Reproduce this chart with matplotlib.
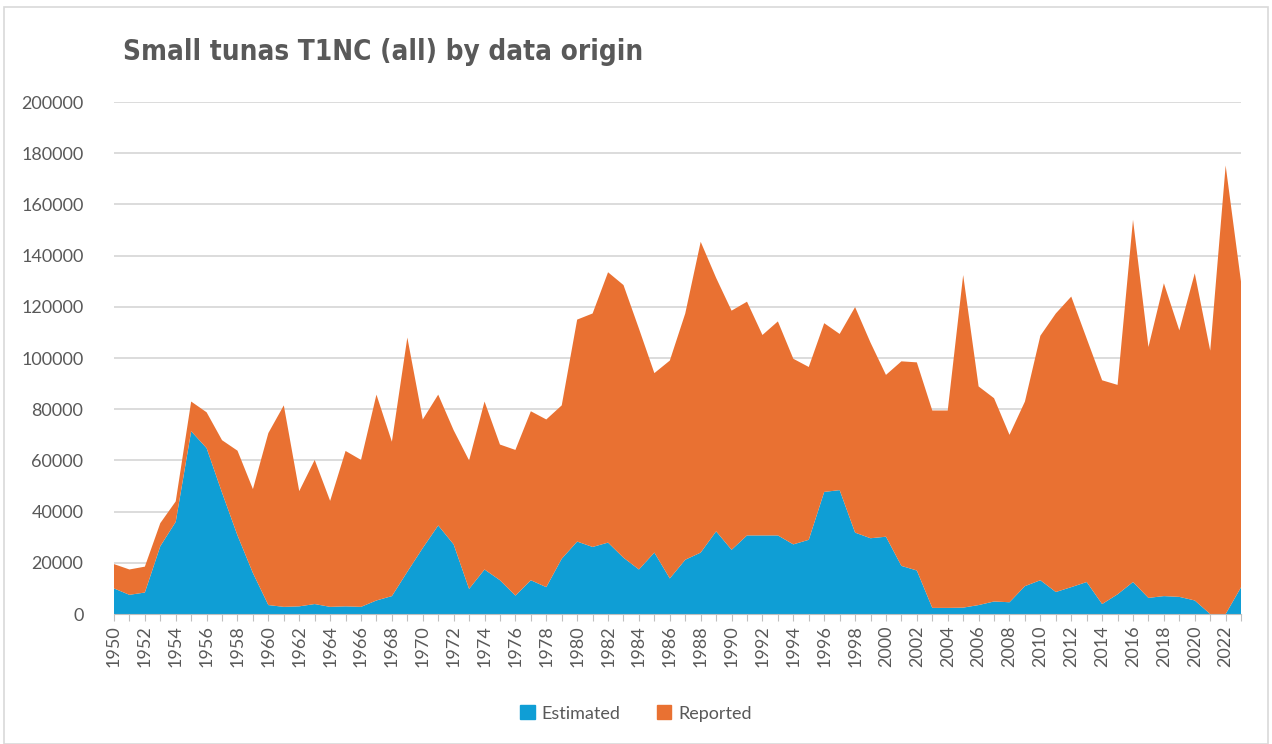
import numpy as np
import matplotlib
matplotlib.use('Agg')
import matplotlib.pyplot as plt
from matplotlib.patches import Rectangle, Patch

years = list(range(1950, 2024))

# total catch (top of the stack) and the estimated part
total = [19500, 17400, 18500, 35500, 44000, 83000, 78800, 67900, 63800, 48800,
         70700, 81500, 48000, 60200, 44200, 63700, 60200, 85700, 67300, 108000,
         76000, 85700, 71800, 60000, 83000, 66200, 64100, 79200, 76000, 81500,
         115000, 117400, 133500, 128500, 111500, 94100, 99000, 117400, 145400, 131300,
         118500, 122000, 109000, 114300, 99700, 96500, 113600, 109400, 119900, 106000,
         93400, 98700, 98300, 79500, 79500, 132400, 88900, 84300, 70000, 83000,
         108700, 117400, 124000, 107600, 91300, 89500, 154000, 104300, 129200, 110800,
         133100, 102900, 175200, 129600]
estimated = [10000, 7500, 8400, 26500, 36000, 71400, 64800, 47400, 30700, 16000,
             3500, 2800, 3000, 3900, 2800, 3000, 2800, 5300, 7000, 16500,
             25800, 34600, 27200, 9800, 17400, 13200, 7200, 13200, 10500, 21600,
             28300, 26200, 27900, 22000, 17400, 24000, 13900, 21200, 24000, 32300,
             25100, 30700, 30700, 30700, 27200, 29000, 47700, 48400, 31800, 29600,
             30200, 18800, 17000, 2400, 2400, 2500, 3500, 4900, 4600, 10900,
             13200, 8600, 10500, 12500, 3900, 7700, 12500, 6300, 7000, 6700,
             5300, 0, 0, 10500]
reported = [t - e for t, e in zip(total, estimated)]

blue = '#0F9ED5'
orange = '#E97132'
grey = '#595959'

plt.rcParams['font.family'] = ['Lato', 'DejaVu Sans']

fig = plt.figure(figsize=(12.72, 7.44), dpi=100)
fig.patches.append(Rectangle((0.003, 0.0), 0.994, 0.99, transform=fig.transFigure,
                             fill=False, edgecolor='#D9D9D9', linewidth=1.2))

ax = fig.add_axes([0.0896, 0.1747, 0.8861, 0.6882])
ax.stackplot(years, estimated, reported, colors=[blue, orange], linewidth=0)

ax.set_xlim(1950, 2023)
ax.set_ylim(0, 200000)
ax.set_yticks(range(0, 200001, 20000))
ax.set_yticklabels([str(v) for v in range(0, 200001, 20000)], fontsize=13, color=grey)
ax.set_xticks(years)
ax.set_xticklabels([str(y) if y % 2 == 0 else '' for y in years],
                   rotation=90, fontsize=13, color=grey)
ax.tick_params(axis='y', length=0, pad=22)
ax.tick_params(axis='x', length=5, color='#BFBFBF', pad=3)
ax.grid(axis='y', color='#D9D9D9', linewidth=1.3)
ax.set_axisbelow(True)
for s in ['top', 'right', 'left']:
    ax.spines[s].set_visible(False)
ax.spines['bottom'].set_color('#BFBFBF')

# title: condensed bold face
fig.text(0.097, 0.93, 'Small tunas T1NC (all) by data origin', fontsize=20,
         fontweight='bold', fontstretch='condensed', color=grey, ha='left', va='center',
         family=['DejaVu Sans'])

handles = [Patch(color=blue, label='Estimated'), Patch(color=orange, label='Reported')]
fig.legend(handles=handles, loc='center', bbox_to_anchor=(0.5, 0.041), ncol=2,
           frameon=False, fontsize=13, handlelength=0.8, handleheight=0.8,
           handletextpad=0.4, columnspacing=2.0, labelcolor=grey)

fig.savefig('out.png', dpi=100)
